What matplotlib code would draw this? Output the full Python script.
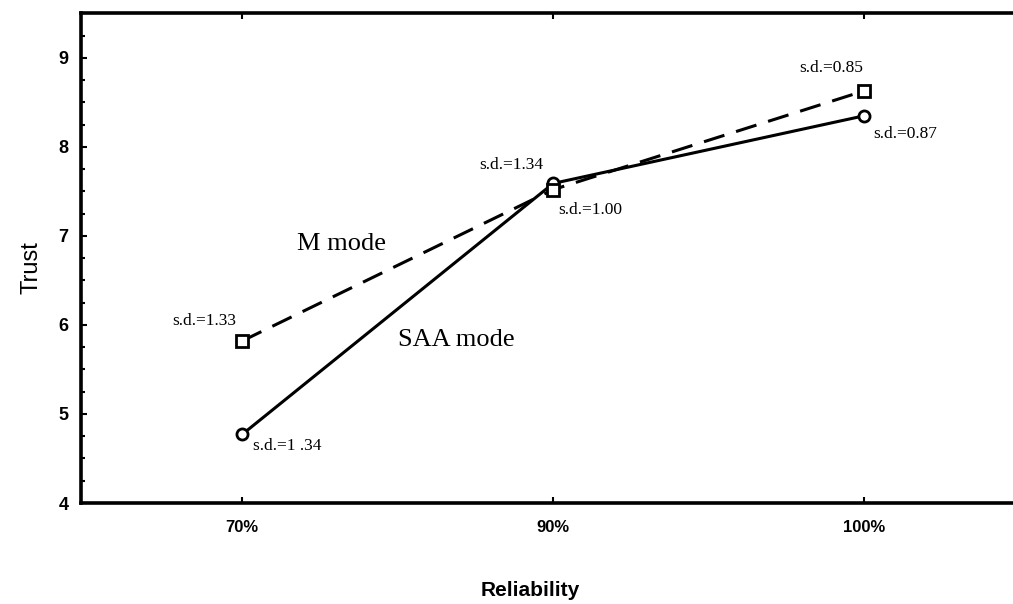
import matplotlib.pyplot as plt
from matplotlib.ticker import MultipleLocator

reliability = ["70%", "90%", "100%"]
saa_trust = [4.77, 7.59, 8.35]
m_trust = [5.82, 7.52, 8.63]
saa_sd = ["s.d.=1 .34", "s.d.=1.34", "s.d.=0.87"]
m_sd = ["s.d.=1.33", "s.d.=1.00", "s.d.=0.85"]

x = list(range(len(reliability)))

fig = plt.figure(figsize=(10.13, 6.04), dpi=100)
ax = fig.add_axes([81 / 1013, 1 - 503 / 604, 945 / 1013, 490.5 / 604])

ax.plot(x, saa_trust, "-", color="black", lw=2.2, marker="o", ms=8,
        mfc="white", mec="black", mew=2)
ax.plot(x, m_trust, "--", color="black", lw=2.2, dashes=(7, 4), marker="s",
        ms=8, mfc="white", mec="black", mew=2)

serif = "Liberation Serif"
# standard deviation notes, offsets in pixels from each point
sd_opts = dict(textcoords="offset pixels", fontsize=12.5, family=serif)
ax.annotate(saa_sd[0], (x[0], saa_trust[0]), xytext=(11, -12),
            ha="left", va="center", **sd_opts)
ax.annotate(saa_sd[1], (x[1], saa_trust[1]), xytext=(-42, 18),
            ha="center", va="center", **sd_opts)
ax.annotate(saa_sd[2], (x[2], saa_trust[2]), xytext=(9, -18),
            ha="left", va="center", **sd_opts)
ax.annotate(m_sd[0], (x[0], m_trust[0]), xytext=(-6, 20),
            ha="right", va="center", **sd_opts)
ax.annotate(m_sd[1], (x[1], m_trust[1]), xytext=(5, -20),
            ha="left", va="center", **sd_opts)
ax.annotate(m_sd[2], (x[2], m_trust[2]), xytext=(-33, 23),
            ha="center", va="center", **sd_opts)

ax.text(0.32, 6.91, "M mode", fontsize=19, family=serif, ha="center", va="center")
ax.text(0.69, 5.83, "SAA mode", fontsize=19, family=serif, ha="center", va="center")

ax.set_xlim(-0.518, 2.52)
ax.set_ylim(4, 9.51)
ax.set_xticks(x)
ax.set_xticklabels(reliability)
ax.yaxis.set_major_locator(MultipleLocator(1))
ax.yaxis.set_minor_locator(MultipleLocator(0.25))

sans = ["DejaVu Sans Condensed", "Liberation Sans Narrow", "Liberation Sans"]
ax.tick_params(axis="both", which="major", direction="in", length=4, width=1.5,
               labelsize=12, pad=12)
ax.tick_params(axis="y", which="minor", direction="in", length=3, width=1.5)
ax.tick_params(axis="x", top=True)
for lab in ax.get_xticklabels() + ax.get_yticklabels():
    lab.set_family(sans)
    lab.set_fontweight("bold")
ax.tick_params(axis="y", pad=9, labelsize=13)

for side in ["left", "top", "bottom", "right"]:
    ax.spines[side].set_linewidth(2.6)

fig.text(31 / 1013, 1 - 268 / 604, "Trust", fontsize=17, family=sans,
         rotation=90, ha="center", va="center")
fig.text(530 / 1013, 1 - 590 / 604, "Reliability", fontsize=15, family=sans,
         fontweight="bold", ha="center", va="center")

fig.savefig("out.png", dpi=100)
